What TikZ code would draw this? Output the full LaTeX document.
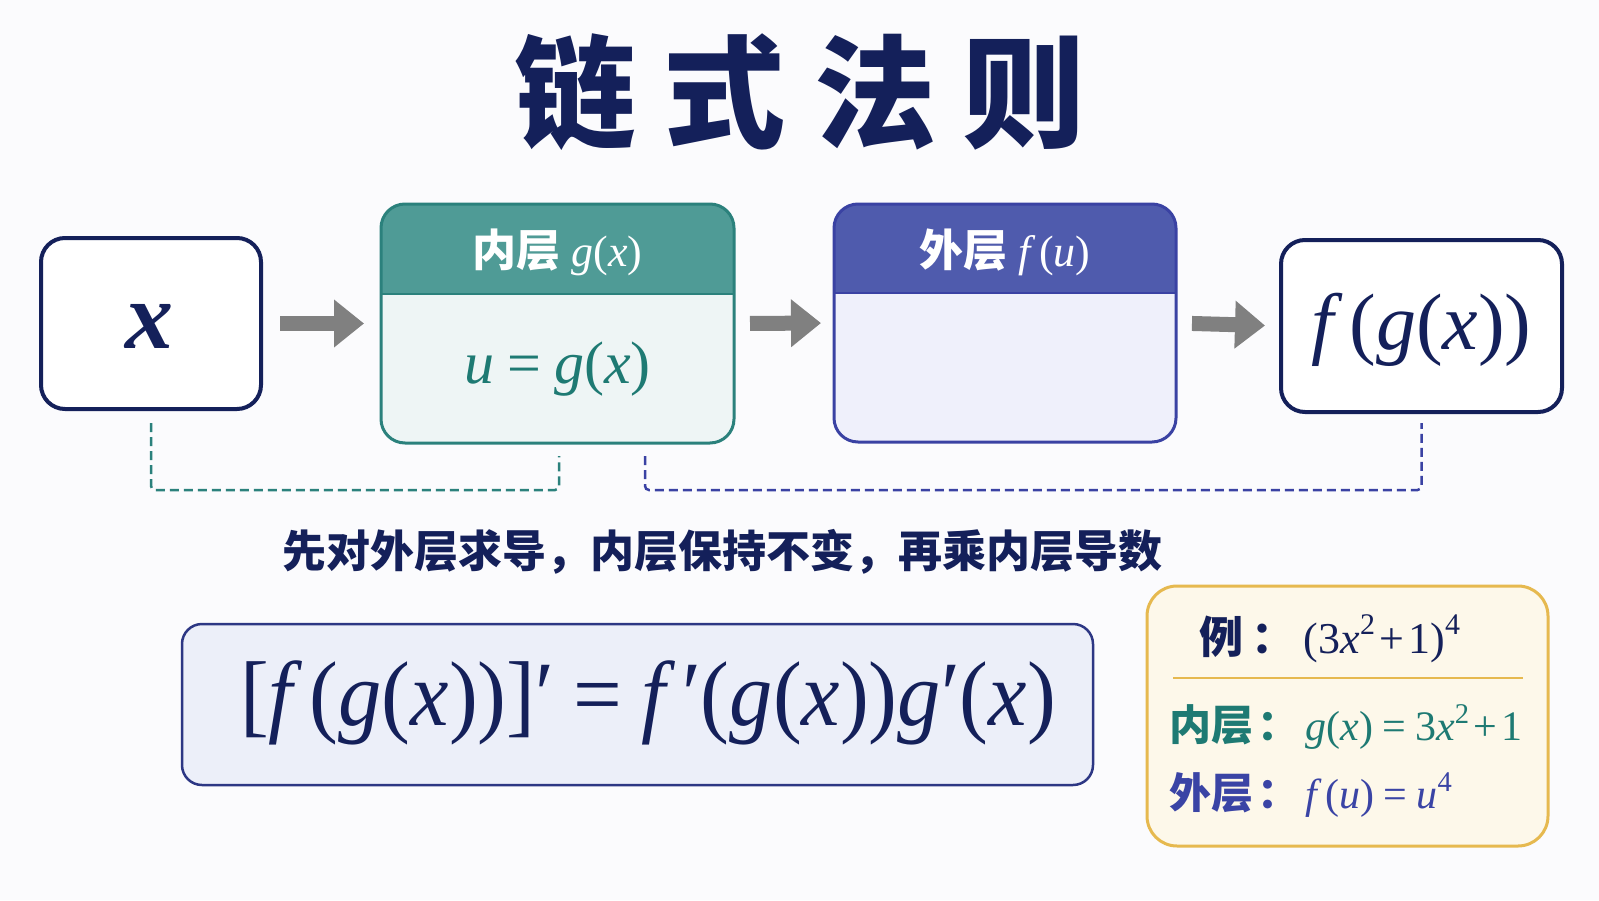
\documentclass[tikz,border=0pt]{standalone}
\usepackage{fontspec}
\setmainfont{Liberation Serif}
\newfontfamily\cjk{Noto Sans CJK SC}
\usetikzlibrary{arrows.meta,calc}
\newcommand\vi[1]{\textit{#1}}
\newcommand\fk{\textit{f}\kern0.08em}
\newcommand\eqs{\kern0.22em=\kern0.22em}
\newcommand\pls{\kern0.1em+\kern0.1em}
\newcommand\sq[1]{\raisebox{0.42em}{\fontsize{0.68em}{0.8em}\selectfont #1}}
\definecolor{bgc}{HTML}{FBFBFD}
\definecolor{navy}{HTML}{14205A}
\definecolor{tealhead}{HTML}{4F9B96}
\definecolor{tealborder}{HTML}{2B817C}
\definecolor{tealbody}{HTML}{EEF5F5}
\definecolor{tealtext}{HTML}{1E7A73}
\definecolor{bluehead}{HTML}{4F5BAD}
\definecolor{blueborder}{HTML}{3A42A3}
\definecolor{bluebody}{HTML}{EFF0FB}
\definecolor{bluetext}{HTML}{3A44A5}
\definecolor{arrowgray}{HTML}{808080}
\definecolor{formfill}{HTML}{ECEFF9}
\definecolor{formborder}{HTML}{2D3784}
\definecolor{exfill}{HTML}{FDF8EA}
\definecolor{exborder}{HTML}{E6B94F}
\tikzset{
  plainbox/.style={draw=navy, fill=white, line width=4pt, rounded corners=24pt, outer sep=0pt, inner sep=0pt},
  layerbox/.style={rounded corners=24pt, outer sep=0pt, inner sep=0pt},
  garrow/.style={draw=arrowgray, line width=15pt, -{Triangle[length=30pt,width=46pt]}},
  tdash/.style={draw=tealborder, line width=2.5pt, dash pattern=on 9pt off 5pt, rounded corners=4pt},
  bdash/.style={draw=blueborder, line width=2.5pt, dash pattern=on 9pt off 5pt, rounded corners=4pt},
}
\begin{document}
\begin{tikzpicture}[x=1pt,y=-1pt]
\fill[bgc] (0,0) rectangle (1599,900);
\useasboundingbox (0,0) rectangle (1599,900);

% title
\node[text=navy, font=\cjk\bfseries\fontsize{122}{130}\selectfont] (title) at (800,92) {链\hspace{28pt}式\hspace{28pt}法\hspace{28pt}则};

% boxes
\node[plainbox, minimum width=220pt, minimum height=171pt] (xbox) at (151,323.5) {};
\node[text=navy, font=\bfseries\itshape\fontsize{96}{100}\selectfont] at (149,326) {x};

\node[layerbox, fill=tealbody, minimum width=353pt, minimum height=239pt] (inner) at (557.5,323.5) {};
\begin{scope}
  \clip[rounded corners=24pt] (inner.north west) rectangle (inner.south east);
  \fill[tealhead] (inner.north west) rectangle ($(inner.north east)+(0,90)$);
\end{scope}
\draw[tealborder, line width=2pt] ($(inner.north west)+(0,90)$) -- ($(inner.north east)+(0,90)$);
\draw[tealborder, line width=3pt, rounded corners=24pt] (inner.north west) rectangle (inner.south east);
\node[text=white, font=\fontsize{44}{50}\selectfont] (innerhead) at ($(inner.north)+(0,48)$) {{\cjk\bfseries 内层}\ \vi{g}(\vi{x})};
\node[text=tealtext, font=\fontsize{60}{64}\selectfont] (innerbody) at ($(inner.north)+(0,165)$) {\vi{u}\eqs\vi{g}(\vi{x})};

\node[layerbox, fill=bluebody, minimum width=342pt, minimum height=238pt] (outer) at (1005,323) {};
\begin{scope}
  \clip[rounded corners=24pt] (outer.north west) rectangle (outer.south east);
  \fill[bluehead] (outer.north west) rectangle ($(outer.north east)+(0,89)$);
\end{scope}
\draw[blueborder, line width=2pt] ($(outer.north west)+(0,89)$) -- ($(outer.north east)+(0,89)$);
\draw[blueborder, line width=3pt, rounded corners=24pt] (outer.north west) rectangle (outer.south east);
\node[text=white, font=\fontsize{44}{50}\selectfont] (outerhead) at ($(outer.north)+(0,48)$) {{\cjk\bfseries 外层}\ \fk(\vi{u})};

\node[plainbox, minimum width=281pt, minimum height=172pt] (res) at (1421.5,326) {};
\node[text=navy, font=\fontsize{80}{86}\selectfont] (restext) at (1421.5,330) {\fk(\vi{g}(\vi{x}))};

% arrows
\draw[garrow, shorten <=19pt, shorten >=17pt] (xbox.east) -- (inner.west);
\draw[garrow, shorten <=16pt, shorten >=13pt] (inner.east) -- (outer.west);
\draw[garrow, shorten <=16pt, shorten >=16pt] (outer.east) -- (res.west);

% dashed brackets
\draw[tdash] ($(xbox.south)+(0,14)$) |- ($(inner.south)+(1.5,47)$) -- ($(inner.south)+(1.5,13)$);
\draw[bdash] ($(inner.south)+(87.5,13)$) |- ($(res.south)+(0,78)$) -- ($(res.south)+(0,11)$);

% sentence
\node[text=navy, font=\cjk\bfseries\fontsize{44}{50}\selectfont] (rule) at (722,552) {先对外层求导，内层保持不变，再乘内层导数};

% formula
\node[draw=formborder, fill=formfill, line width=2.5pt, rounded corners=20pt, minimum width=911pt, minimum height=161pt, outer sep=0pt] (formula) at (637.5,704.5) {};
\node[text=navy, font=\fontsize{92}{100}\selectfont] (formtext) at (648,703) {\scalebox{0.94}[1]{[\fk(\vi{g}(\vi{x}))]′\eqs\fk′(\vi{g}(\vi{x}))\vi{g}′(\vi{x})}};

% example
\node[draw=exborder, fill=exfill, line width=3pt, rounded corners=30pt, minimum width=401pt, minimum height=260pt, outer sep=0pt] (ex) at (1347.5,716) {};
\node[text=navy, font=\fontsize{44}{50}\selectfont] (ex1) at (1330,639) {{\cjk\bfseries 例\hspace{8pt}：}\hspace{8pt}(3\vi{x}\sq{2}\pls1)\sq{4}};
\draw[exborder, line width=2.5pt] ($(ex.west)+(26,-38)$) -- ($(ex.east)+(-25,-38)$);
\node[anchor=west, text=tealtext, font=\fontsize{42}{48}\selectfont] (ex2) at (1166,727) {{\cjk\bfseries 内层\hspace{4pt}：}\hspace{6pt}\vi{g}(\vi{x})\eqs3\vi{x}\sq{2}\pls1};
\node[anchor=west, text=bluetext, font=\fontsize{42}{48}\selectfont] (ex3) at (1166,795) {{\cjk\bfseries 外层\hspace{4pt}：}\hspace{6pt}\fk(\vi{u})\eqs\vi{u}\sq{4}};
\end{tikzpicture}
\end{document}
